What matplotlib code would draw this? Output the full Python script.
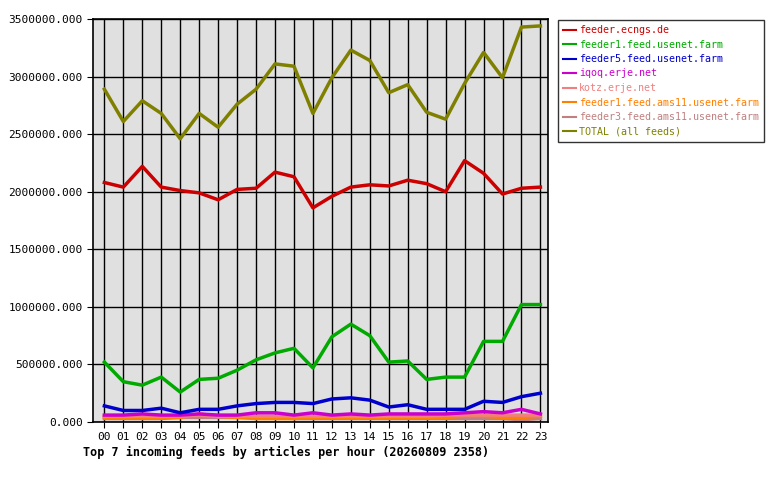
import matplotlib
matplotlib.use("Agg")
import matplotlib.pyplot as plt
import matplotlib.ticker as mt

plt.rcParams['font.family'] = 'DejaVu Sans Mono'

hours = ["%02d" % h for h in range(24)]
ecngs = [2.08,2.04,2.22,2.04,2.01,1.99,1.93,2.02,2.03,2.17,2.13,1.86,1.96,2.04,2.06,2.05,2.10,2.07,2.00,2.27,2.16,1.98,2.03,2.04]
feeder1 = [0.52,0.35,0.32,0.39,0.26,0.37,0.38,0.45,0.54,0.60,0.64,0.47,0.74,0.85,0.75,0.52,0.53,0.37,0.39,0.39,0.70,0.70,1.02,1.02]
feeder5 = [0.14,0.10,0.10,0.12,0.08,0.11,0.11,0.14,0.16,0.17,0.17,0.16,0.20,0.21,0.19,0.13,0.15,0.11,0.11,0.11,0.18,0.17,0.22,0.25]
iqoq = [0.06,0.06,0.07,0.06,0.06,0.07,0.06,0.06,0.08,0.08,0.06,0.08,0.06,0.07,0.06,0.07,0.07,0.07,0.07,0.08,0.09,0.08,0.11,0.07]
kotz = [0.05,0.05,0.05,0.05,0.05,0.06,0.05,0.05,0.05,0.05,0.05,0.05,0.05,0.05,0.05,0.05,0.05,0.05,0.06,0.06,0.06,0.06,0.06,0.06]
ams1 = [0.04,0.04,0.04,0.04,0.04,0.07,0.05,0.04,0.03,0.03,0.03,0.04,0.04,0.04,0.04,0.04,0.04,0.04,0.04,0.05,0.05,0.04,0.04,0.05]
ams3 = [0.03,0.03,0.03,0.03,0.04,0.04,0.04,0.04,0.04,0.04,0.03,0.03,0.03,0.03,0.03,0.03,0.03,0.03,0.03,0.03,0.03,0.03,0.02,0.03]
total = [2.89,2.61,2.79,2.68,2.46,2.68,2.56,2.76,2.89,3.11,3.09,2.68,2.99,3.23,3.14,2.86,2.93,2.69,2.63,2.94,3.21,2.99,3.43,3.44]

series = [
    ("feeder.ecngs.de", ecngs, "#cc0000"),
    ("feeder1.feed.usenet.farm", feeder1, "#00aa00"),
    ("feeder5.feed.usenet.farm", feeder5, "#0000cc"),
    ("iqoq.erje.net", iqoq, "#cc00cc"),
    ("kotz.erje.net", kotz, "#f08080"),
    ("feeder1.feed.ams11.usenet.farm", ams1, "#ff7f00"),
    ("feeder3.feed.ams11.usenet.farm", ams3, "#c08080"),
    ("TOTAL (all feeds)", total, "#808000"),
]

fig = plt.figure(figsize=(7.8, 4.8), dpi=100)
ax = fig.add_axes([93/780, 1-422/480, 455/780, 403/480])
ax.set_facecolor("#e0e0e0")
x = list(range(24))
for name, vals, c in reversed(series):
    ax.plot(x, [v*1e6 for v in vals], color=c, lw=2.5, label=name)
ax.set_xlim(-0.6, 23.4)
ax.set_ylim(0, 3500000)
ax.set_xticks(x)
ax.set_xticklabels(hours, fontsize=8)
ax.yaxis.set_major_locator(mt.MultipleLocator(500000))
ax.yaxis.set_major_formatter(mt.FormatStrFormatter("%.3f"))
ax.tick_params(labelsize=8, direction="out", length=4)
ax.grid(True, color="black", lw=1)
for s in ax.spines.values():
    s.set_linewidth(1.2)
h, l = ax.get_legend_handles_labels()
leg = fig.legend(h[::-1], l[::-1], loc="upper left", bbox_to_anchor=(558/780, 1-20/480),
                 fontsize=7.2, frameon=True, fancybox=False, edgecolor="black",
                 handlelength=1.3, handletextpad=0.3, borderpad=0.5,
                 labelspacing=0.45, borderaxespad=0)
for t, (_, _, c) in zip(leg.get_texts(), series):
    t.set_color(c)
for ln in leg.get_lines():
    ln.set_linewidth(1.5)
fig.text(83/780, 1-452/480, "Top 7 incoming feeds by articles per hour (20260809 2358)",
         fontsize=8.5, fontweight="bold", va="center")
fig.savefig("out.png", dpi=100)
